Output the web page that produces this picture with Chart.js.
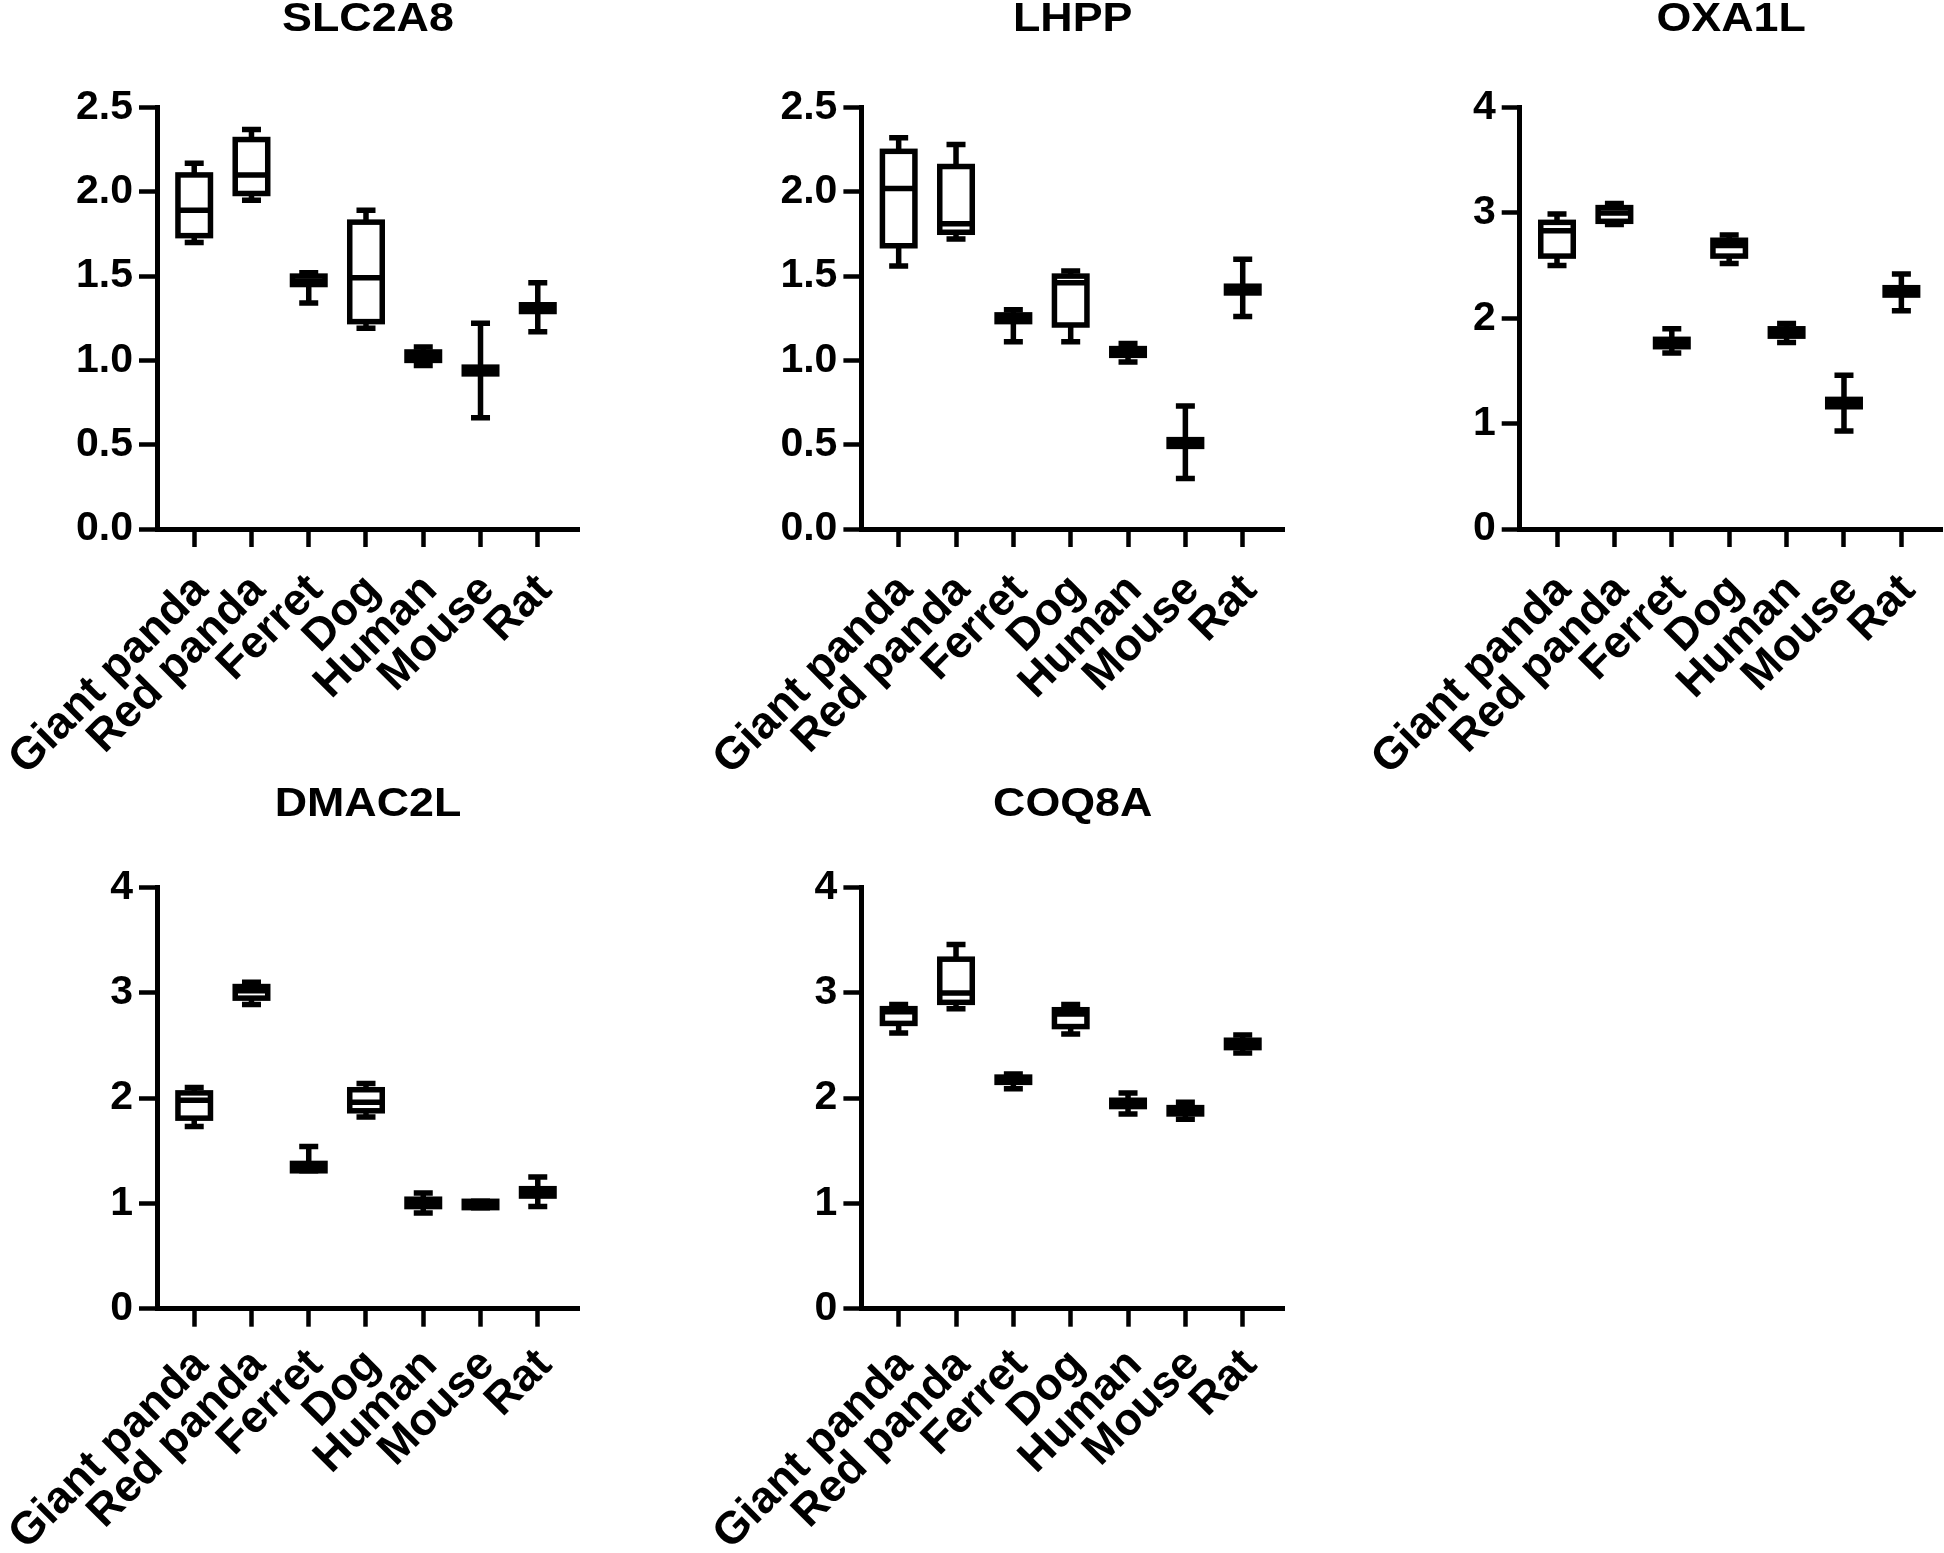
<!DOCTYPE html>
<html>
<head>
<meta charset="utf-8">
<title>Relative expression by species</title>
<script src="https://cdn.jsdelivr.net/npm/chart.js@4.4.1/dist/chart.umd.min.js"></script>
<style>
  html, body { margin: 0; padding: 0; background: #fff; }
  #page { position: relative; width: 1944px; height: 1553px; overflow: hidden; background: #fff; }
  .panel { position: absolute; }
</style>
</head>
<body>
<div id="page">
  <div class="panel" style="left:0px;top:0px;width:640px;height:790px"><canvas id="c-slc2a8"></canvas></div>
  <div class="panel" style="left:650px;top:0px;width:650px;height:790px"><canvas id="c-lhpp"></canvas></div>
  <div class="panel" style="left:1300px;top:0px;width:644px;height:790px"><canvas id="c-oxa1l"></canvas></div>
  <div class="panel" style="left:0px;top:770px;width:640px;height:783px"><canvas id="c-dmac2l"></canvas></div>
  <div class="panel" style="left:650px;top:770px;width:650px;height:783px"><canvas id="c-coq8a"></canvas></div>
</div>
<script>
const species = ['Giant panda', 'Red panda', 'Ferret', 'Dog', 'Human', 'Mouse', 'Rat'];

// one row per species: [min, q1, median, q3, max]
const slc2a8 = [
    [1.70, 1.74, 1.89, 2.10, 2.17],
    [1.95, 1.99, 2.10, 2.31, 2.37],
    [1.34, 1.45, 1.47, 1.50, 1.52],
    [1.19, 1.23, 1.49, 1.82, 1.89],
    [0.97, 1.00, 1.03, 1.05, 1.08],
    [0.66, 0.92, 0.94, 0.96, 1.22],
    [1.17, 1.29, 1.31, 1.33, 1.46]
];
const lhpp = [
    [1.56, 1.68, 2.02, 2.24, 2.32],
    [1.72, 1.76, 1.81, 2.15, 2.28],
    [1.11, 1.23, 1.25, 1.27, 1.30],
    [1.11, 1.21, 1.46, 1.50, 1.53],
    [0.99, 1.03, 1.05, 1.07, 1.10],
    [0.30, 0.49, 0.51, 0.53, 0.73],
    [1.26, 1.40, 1.42, 1.44, 1.60]
];
const oxa1l = [
    [2.50, 2.59, 2.83, 2.91, 2.99],
    [2.89, 2.92, 3.00, 3.05, 3.09],
    [1.67, 1.73, 1.76, 1.80, 1.90],
    [2.52, 2.59, 2.69, 2.74, 2.79],
    [1.77, 1.83, 1.87, 1.90, 1.95],
    [0.93, 1.16, 1.19, 1.23, 1.46],
    [2.07, 2.22, 2.25, 2.29, 2.42]
];
const dmac2l = [
    [1.73, 1.81, 1.98, 2.05, 2.10],
    [2.89, 2.95, 3.02, 3.06, 3.10],
    [1.31, 1.31, 1.35, 1.38, 1.54],
    [1.82, 1.88, 1.96, 2.08, 2.14],
    [0.91, 0.97, 1.00, 1.04, 1.10],
    [0.96, 0.96, 0.99, 1.02, 1.02],
    [0.97, 1.07, 1.11, 1.14, 1.25]
];
const coq8a = [
    [2.62, 2.71, 2.82, 2.85, 2.89],
    [2.85, 2.91, 3.00, 3.32, 3.46],
    [2.09, 2.15, 2.17, 2.20, 2.23],
    [2.61, 2.68, 2.80, 2.84, 2.89],
    [1.85, 1.92, 1.95, 1.98, 2.05],
    [1.80, 1.85, 1.88, 1.91, 1.96],
    [2.43, 2.48, 2.52, 2.55, 2.60]
];

const ticksHalf = [0, 0.5, 1, 1.5, 2, 2.5];
const ticksWhole = [0, 1, 2, 3, 4];

const fontFamily = '"Liberation Sans", Arial, sans-serif';
const yFont = { family: fontFamily, size: 41, weight: 'bold' };
const xFont = { family: fontFamily, size: 45, weight: 'bold' };

// whiskers, caps, median and box outline, placed with the chart's scales
const boxWhisker = {
    id: 'boxWhisker',
    afterDatasetsDraw(chart, args, opts) {
        const { ctx, scales: { x, y } } = chart;
        const stats = chart.data.datasets[0].stats;
        const half = opts.boxWidth / 2, cap = opts.capWidth / 2;
        const py = v => y.getPixelForValue(v);
        ctx.save();
        ctx.strokeStyle = '#000';
        ctx.lineWidth = opts.lineWidth;
        ctx.lineCap = 'butt';
        ctx.lineJoin = 'miter';
        stats.forEach((s, i) => {
            const [mn, q1, med, q3, mx] = s;
            const cx = x.getPixelForValue(i + 1);
            ctx.beginPath();
            ctx.moveTo(cx, py(q3)); ctx.lineTo(cx, py(mx));
            ctx.moveTo(cx, py(q1)); ctx.lineTo(cx, py(mn));
            ctx.moveTo(cx - cap, py(mx)); ctx.lineTo(cx + cap, py(mx));
            ctx.moveTo(cx - cap, py(mn)); ctx.lineTo(cx + cap, py(mn));
            ctx.moveTo(cx - half, py(med)); ctx.lineTo(cx + half, py(med));
            ctx.stroke();
            ctx.strokeRect(cx - half, py(q3), half * 2, py(q1) - py(q3));
        });
        ctx.restore();
    }
};

// gene name centred over the plot area
const panelTitle = {
    id: 'panelTitle',
    afterDraw(chart, args, opts) {
        const { ctx, chartArea } = chart;
        ctx.save();
        ctx.font = 'bold 40px ' + fontFamily;
        ctx.fillStyle = '#000';
        ctx.textAlign = 'center';
        ctx.textBaseline = 'alphabetic';
        ctx.translate((chartArea.left + chartArea.right) / 2, chartArea.top - opts.gap);
        ctx.scale(1.12, 1);
        ctx.fillText(opts.text, 0, 0);
        ctx.restore();
    }
};

function makePanel(id, title, stats, yTicks, decimals, box) {
    const axisGrid = { drawOnChartArea: false, drawTicks: true, tickLength: 18, tickWidth: 4.5, color: '#000', offset: false };
    const axisBorder = { display: true, color: '#000', width: 5 };

    new Chart(document.getElementById(id), {
        type: 'bar',
        data: {
            datasets: [{
                data: stats.map((s, i) => ({ x: i + 1, y: [s[1], s[3]] })),
                stats: stats,
                backgroundColor: '#fff',
                borderWidth: 0,
                barThickness: 33
            }]
        },
        options: {
            responsive: true,
            maintainAspectRatio: false,
            animation: false,
            layout: { padding: { top: box.top, right: box.right, left: 0, bottom: 0 } },
            plugins: {
                legend: { display: false },
                tooltip: { enabled: false },
                panelTitle: { text: title, gap: box.titleGap },
                boxWhisker: { boxWidth: 32.5, capWidth: 19, lineWidth: 5.5 }
            },
            scales: {
                x: {
                    type: 'linear',
                    min: 0.35,
                    max: 7.72,
                    offset: false,
                    grid: axisGrid,
                    border: axisBorder,
                    ticks: {
                        autoSkip: false,
                        maxRotation: 45,
                        minRotation: 45,
                        padding: box.labelPad,
                        labelOffset: 7,
                        color: '#000',
                        font: xFont,
                        callback: v => species[v - 1]
                    },
                    afterBuildTicks: s => { s.ticks = species.map((_, i) => ({ value: i + 1 })); },
                    afterFit: s => { s.height = box.height - box.bottom; s.paddingLeft = 0; s.paddingRight = 0; }
                },
                y: {
                    min: 0,
                    max: yTicks[yTicks.length - 1],
                    grid: axisGrid,
                    border: axisBorder,
                    ticks: {
                        padding: 6,
                        color: '#000',
                        font: yFont,
                        callback: v => v.toFixed(decimals)
                    },
                    afterBuildTicks: s => { s.ticks = yTicks.map(v => ({ value: v })); },
                    afterFit: s => { s.width = box.left; }
                }
            }
        },
        plugins: [boxWhisker, panelTitle]
    });
}

makePanel('c-slc2a8', 'SLC2A8', slc2a8, ticksHalf, 1, { left: 157, right: 61, top: 107.5, bottom: 529, height: 790, titleGap: 77, labelPad: 17 });
makePanel('c-lhpp', 'LHPP', lhpp, ticksHalf, 1, { left: 211.4, right: 16, top: 107.5, bottom: 529, height: 790, titleGap: 77, labelPad: 17 });
makePanel('c-oxa1l', 'OXA1L', oxa1l, ticksWhole, 0, { left: 219.7, right: 1.3, top: 107.5, bottom: 529, height: 790, titleGap: 77, labelPad: 17 });
makePanel('c-dmac2l', 'DMAC2L', dmac2l, ticksWhole, 0, { left: 157, right: 61, top: 117.6, bottom: 538.7, height: 783, titleGap: 72, labelPad: 12 });
makePanel('c-coq8a', 'COQ8A', coq8a, ticksWhole, 0, { left: 211.4, right: 16, top: 117.6, bottom: 538.7, height: 783, titleGap: 72, labelPad: 12 });
</script>
</body>
</html>
